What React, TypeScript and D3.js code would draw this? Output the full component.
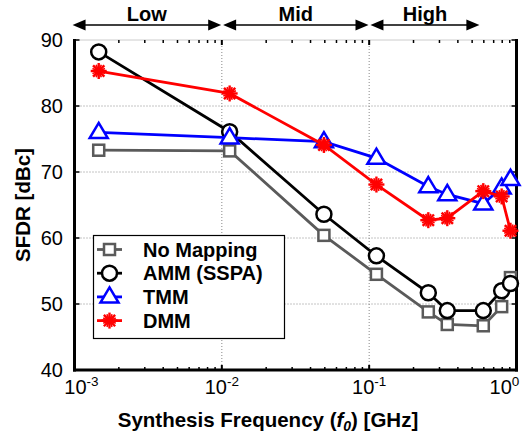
import React from "react";
import * as d3 from "d3";

const freqs = [0.00146, 0.0113, 0.0493, 0.112, 0.252, 0.339, 0.595, 0.793, 0.91];
const noMapping = [73.3, 73.2, 60.4, 54.5, 48.8, 46.9, 46.7, 49.6, 54.0];
const amm = [88.2, 76.1, 63.6, 57.3, 51.7, 49.0, 49.0, 52.0, 53.1];
const tmm = [76.0, 75.2, 74.6, 72.1, 67.8, 66.6, 65.2, 67.6, 68.9];
const dmm = [85.3, 81.9, 74.1, 68.1, 62.7, 63.0, 67.1, 66.3, 61.1];
const seriesNames = ["No Mapping", "AMM (SSPA)", "TMM", "DMM"];
const yTicks = [40, 50, 60, 70, 80, 90];
const xTickExps = [-3, -2, -1, 0];
const bands = [
  { label: "Low", from: 0.00097, to: 0.0099 },
  { label: "Mid", from: 0.0102, to: 0.099 },
  { label: "High", from: 0.102, to: 0.56 },
];

const FONT = "'Liberation Sans', Arial, Helvetica, sans-serif";

function Marker({ kind, x, y, color }: { kind: string; x: number; y: number; color: string }) {
  if (kind === "square") {
    const s = 11;
    return <rect x={x - s / 2} y={y - s / 2} width={s} height={s} fill="white" stroke={color} strokeWidth={2.5} />;
  }
  if (kind === "circle") {
    return <circle cx={x} cy={y} r={7.5} fill="white" stroke={color} strokeWidth={2.5} />;
  }
  if (kind === "triangle") {
    const r = 9.5;
    const pts = [
      [x, y - r],
      [x + r * 0.95, y + r * 0.6],
      [x - r * 0.95, y + r * 0.6],
    ];
    return <polygon points={pts.map((p) => p.join(",")).join(" ")} fill="white" stroke={color} strokeWidth={2.5} strokeLinejoin="miter" />;
  }
  // star (asterisk)
  const r = 8;
  const lines = [0, 45, 90, 135, 22.5, 67.5, 112.5, 157.5].map((a) => {
    const rad = (a * Math.PI) / 180;
    const rr = a % 45 === 0 ? r : r * 0.85;
    return (
      <line
        key={a}
        x1={x - rr * Math.cos(rad)}
        y1={y - rr * Math.sin(rad)}
        x2={x + rr * Math.cos(rad)}
        y2={y + rr * Math.sin(rad)}
        stroke={color}
        strokeWidth={a % 45 === 0 ? 2.4 : 1.6}
      />
    );
  });
  return <g>{lines}</g>;
}

export default function App() {
  const W = 522;
  const H = 437;
  const left = 74.5;
  const right = 516.5;
  const top = 40;
  const bottom = 370;
  const x = d3.scaleLog().domain([1e-3, 1]).range([left, right]);
  const y = d3.scaleLinear().domain([40, 90]).range([bottom, top]);

  const series = [
    { name: seriesNames[0], values: noMapping, color: "#5a5a5a", kind: "square" },
    { name: seriesNames[1], values: amm, color: "#000000", kind: "circle" },
    { name: seriesNames[2], values: tmm, color: "#0000ff", kind: "triangle" },
    { name: seriesNames[3], values: dmm, color: "#ff0000", kind: "star" },
  ];

  const line = d3
    .line<number>()
    .x((_, i) => x(freqs[i]))
    .y((v) => y(v));

  const minorTicks: number[] = [];
  for (let e = -3; e < 0; e++) {
    for (let m = 2; m <= 9; m++) minorTicks.push(m * Math.pow(10, e));
  }

  const arrowY = 25;
  const head = (xx: number, dir: number) => {
    const L = 13;
    const h = 5.5;
    return `${xx},${arrowY} ${xx - dir * L},${arrowY - h} ${xx - dir * L},${arrowY + h}`;
  };

  const legX = 93.5;
  const legY = 235.5;
  const legW = 191;
  const legH = 103;
  const rowH = 23.7;

  return (
    <svg width={W} height={H} style={{ position: "absolute", left: 0, top: 0, background: "white" }} fontFamily={FONT}>
      <rect x={0} y={0} width={W} height={H} fill="white" />
      {/* grid */}
      {[1e-2, 1e-1].map((v) => (
        <line key={v} x1={x(v)} x2={x(v)} y1={top} y2={bottom} stroke="#888" strokeWidth={1} strokeDasharray="1,2" />
      ))}
      {[50, 60, 70, 80].map((v) => (
        <line key={v} x1={left} x2={right} y1={y(v)} y2={y(v)} stroke="#888" strokeWidth={1} strokeDasharray="1,2" />
      ))}
      {/* top border */}
      <line x1={left} x2={right} y1={top} y2={top} stroke="#999" strokeWidth={1} strokeDasharray="1,1" />
      {/* minor ticks */}
      {minorTicks.map((v) => (
        <g key={v}>
          <line x1={x(v)} x2={x(v)} y1={bottom} y2={bottom - 3} stroke="#000" strokeWidth={1.5} />
          <line x1={x(v)} x2={x(v)} y1={top} y2={top + 3} stroke="#000" strokeWidth={1.5} />
        </g>
      ))}
      {/* major x ticks */}
      {xTickExps.map((e) => (
        <g key={e}>
          <line x1={x(Math.pow(10, e))} x2={x(Math.pow(10, e))} y1={bottom} y2={bottom - 5} stroke="#000" strokeWidth={2} />
          <line x1={x(Math.pow(10, e))} x2={x(Math.pow(10, e))} y1={top} y2={top + 5} stroke="#000" strokeWidth={2} />
        </g>
      ))}
      {/* y ticks */}
      {yTicks.map((v) => (
        <g key={v}>
          <line x1={left} x2={left + 5} y1={y(v)} y2={y(v)} stroke="#000" strokeWidth={1.5} />
          <line x1={right} x2={right - 5} y1={y(v)} y2={y(v)} stroke="#000" strokeWidth={1.5} />
          <text x={63} y={y(v) + 7} textAnchor="end" fontSize={20} fill="#000">
            {v}
          </text>
        </g>
      ))}
      {/* axes lines */}
      <line x1={left} x2={left} y1={top - 1} y2={bottom + 1.5} stroke="#000" strokeWidth={3} />
      <line x1={left - 1.5} x2={right + 1.5} y1={bottom} y2={bottom} stroke="#000" strokeWidth={3} />
      <line x1={right} x2={right} y1={top - 1} y2={bottom + 1.5} stroke="#000" strokeWidth={3} />
      {/* x tick labels */}
      {xTickExps.map((e, i) => {
        const dx = i === 0 ? 7 : i === xTickExps.length - 1 ? -12 : 0;
        return (
          <text key={e} x={x(Math.pow(10, e)) + dx} y={394} textAnchor="middle" fontSize={20} fill="#000">
            10
            <tspan fontSize={13.5} dy={-8}>
              {e}
            </tspan>
          </text>
        );
      })}
      {/* axis titles */}
      <text x={268} y={427} textAnchor="middle" fontSize={20.5} fontWeight="bold" fill="#000">
        Synthesis Frequency (
        <tspan fontStyle="italic">f</tspan>
        <tspan fontStyle="italic" fontSize={14} dy={4}>
          0
        </tspan>
        <tspan dy={-4}>) [GHz]</tspan>
      </text>
      <text
        transform={`translate(30, ${(top + bottom) / 2}) rotate(-90)`}
        textAnchor="middle"
        fontSize={20.5}
        fontWeight="bold"
        fill="#000"
      >
        SFDR [dBc]
      </text>
      {/* series */}
      {series.map((s) => (
        <g key={s.name}>
          <path d={line(s.values) || ""} fill="none" stroke={s.color} strokeWidth={2.8} />
          {s.values.map((v, i) => (
            <Marker key={i} kind={s.kind} x={x(freqs[i])} y={y(v)} color={s.color} />
          ))}
        </g>
      ))}
      {/* legend */}
      <rect x={legX} y={legY} width={legW} height={legH} fill="white" stroke="#000" strokeWidth={1.2} />
      {series.map((s, i) => {
        const cy = legY + 14 + i * rowH;
        return (
          <g key={s.name}>
            <line x1={97} x2={122} y1={cy} y2={cy} stroke={s.color} strokeWidth={2.8} />
            <Marker kind={s.kind} x={109.5} y={cy} color={s.color} />
            <text x={143} y={cy + 7} fontSize={20} fontWeight="bold" fill="#000">
              {s.name}
            </text>
          </g>
        );
      })}
      {/* band arrows */}
      {bands.map((b) => {
        const x1 = x(b.from);
        const x2 = x(b.to);
        return (
          <g key={b.label}>
            <line x1={x1 + 6} x2={x2 - 6} y1={arrowY} y2={arrowY} stroke="#000" strokeWidth={1.5} />
            <polygon points={head(x1, -1)} fill="#000" />
            <polygon points={head(x2, 1)} fill="#000" />
            <text x={(x1 + x2) / 2} y={21} textAnchor="middle" fontSize={20} fontWeight="bold" fill="#000">
              {b.label}
            </text>
          </g>
        );
      })}
    </svg>
  );
}
